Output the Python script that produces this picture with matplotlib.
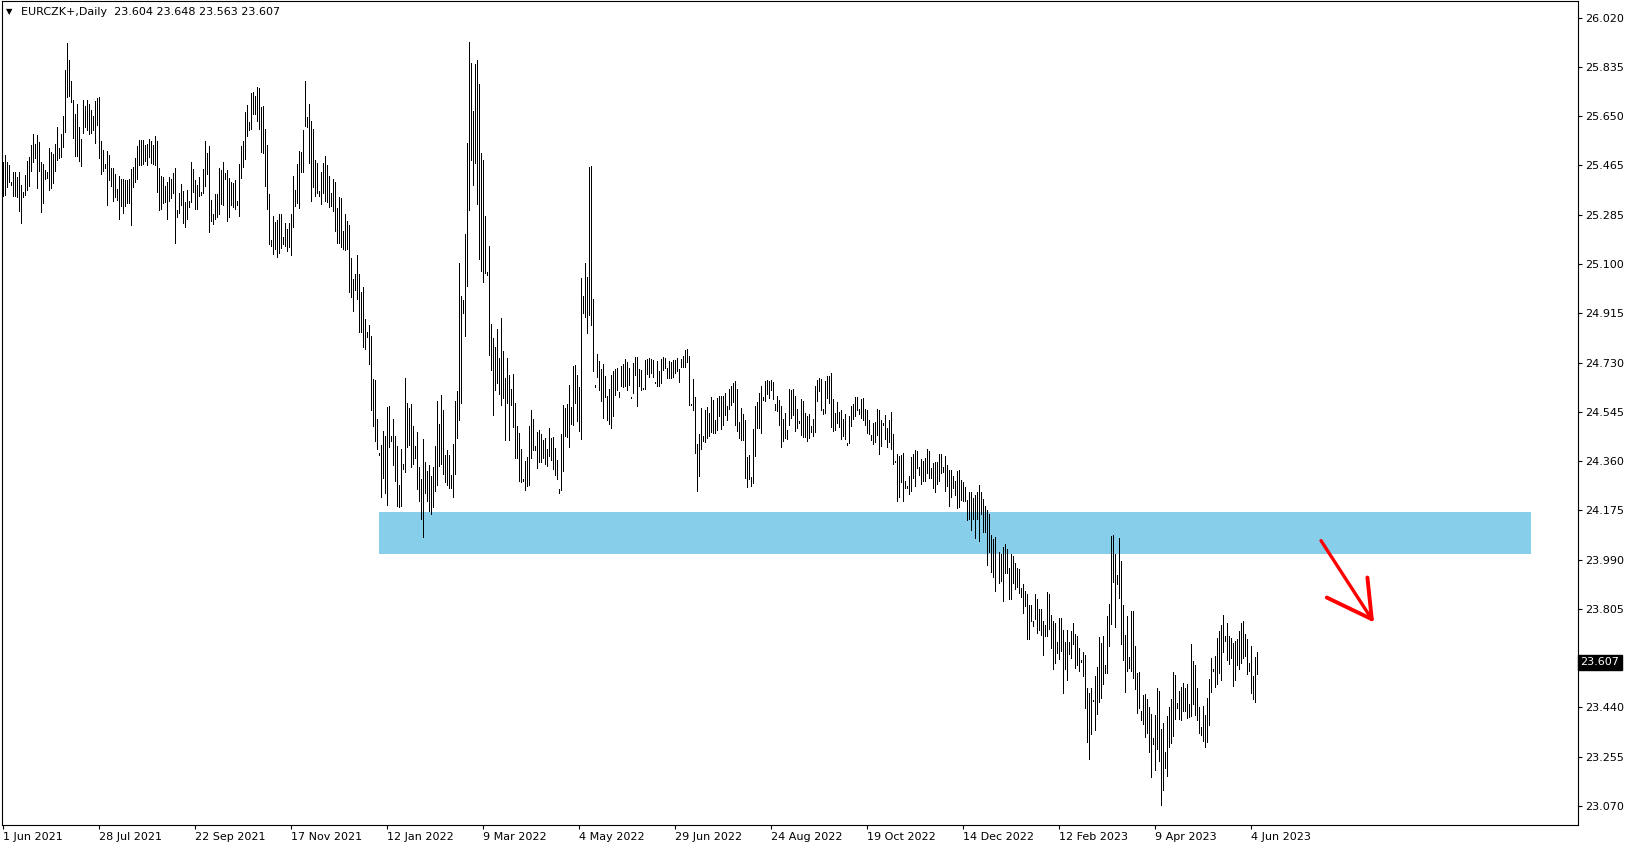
import numpy as np
import matplotlib
matplotlib.use("Agg")
import matplotlib.pyplot as plt
from matplotlib.patches import Rectangle
from matplotlib.transforms import blended_transform_factory

# daily bars EURCZK (high / low), one value per bar
highs = [
    25.481, 25.506, 25.481, 25.468, 25.406, 25.443, 25.443, 25.425, 25.443, 25.394,
    25.369, 25.431, 25.483, 25.500, 25.543, 25.584, 25.546, 25.581, 25.554, 25.478,
    25.472, 25.450, 25.442, 25.532, 25.518, 25.508, 25.548, 25.610, 25.531, 25.584,
    25.652, 25.823, 25.923, 25.861, 25.782, 25.711, 25.659, 25.696, 25.612, 25.566,
    25.711, 25.689, 25.711, 25.696, 25.676, 25.652, 25.709, 25.720, 25.724, 25.558,
    25.524, 25.472, 25.522, 25.505, 25.458, 25.457, 25.433, 25.379, 25.428, 25.416,
    25.416, 25.412, 25.412, 25.416, 25.453, 25.462, 25.493, 25.539, 25.562, 25.562,
    25.562, 25.543, 25.547, 25.567, 25.558, 25.543, 25.577, 25.559, 25.458, 25.428,
    25.425, 25.391, 25.405, 25.425, 25.417, 25.440, 25.458, 25.299, 25.365, 25.397,
    25.371, 25.331, 25.375, 25.335, 25.481, 25.455, 25.412, 25.395, 25.425, 25.369,
    25.455, 25.559, 25.515, 25.539, 25.338, 25.285, 25.360, 25.360, 25.457, 25.450,
    25.480, 25.437, 25.450, 25.421, 25.405, 25.400, 25.412, 25.335, 25.472, 25.541,
    25.558, 25.668, 25.693, 25.630, 25.736, 25.741, 25.727, 25.761, 25.756, 25.684,
    25.689, 25.604, 25.543, 25.360, 25.188, 25.279, 25.255, 25.263, 25.285, 25.285,
    25.198, 25.253, 25.230, 25.250, 25.285, 25.428, 25.375, 25.472, 25.522, 25.517,
    25.599, 25.782, 25.647, 25.696, 25.632, 25.602, 25.487, 25.477, 25.372, 25.441,
    25.475, 25.502, 25.468, 25.428, 25.365, 25.416, 25.405, 25.308, 25.350, 25.344,
    25.222, 25.285, 25.259, 25.244, 25.120, 25.042, 25.061, 25.132, 25.061, 24.995,
    25.012, 24.893, 24.842, 24.870, 24.830, 24.668, 24.665, 24.519, 24.391, 24.422,
    24.474, 24.455, 24.563, 24.568, 24.455, 24.519, 24.453, 24.416, 24.272, 24.407,
    24.351, 24.671, 24.577, 24.560, 24.574, 24.493, 24.418, 24.470, 24.337, 24.295,
    24.443, 24.358, 24.325, 24.347, 24.303, 24.337, 24.416, 24.586, 24.499, 24.609,
    24.553, 24.384, 24.401, 24.384, 24.308, 24.425, 24.586, 24.621, 25.103, 24.980,
    24.964, 25.210, 25.549, 25.928, 25.851, 25.671, 25.846, 25.861, 25.770, 25.514,
    25.487, 25.278, 25.068, 25.166, 24.874, 24.822, 24.786, 24.855, 24.747, 24.896,
    24.773, 24.672, 24.747, 24.683, 24.631, 24.687, 24.579, 24.493, 24.467, 24.407,
    24.293, 24.362, 24.377, 24.493, 24.553, 24.519, 24.418, 24.470, 24.478, 24.463,
    24.440, 24.448, 24.407, 24.485, 24.448, 24.452, 24.411, 24.366, 24.257, 24.463,
    24.571, 24.560, 24.575, 24.646, 24.564, 24.717, 24.721, 24.683, 24.639, 25.046,
    24.979, 25.102, 25.050, 25.461, 25.465, 24.967, 24.646, 24.762, 24.736, 24.706,
    24.725, 24.680, 24.605, 24.631, 24.683, 24.698, 24.706, 24.710, 24.620, 24.717,
    24.725, 24.743, 24.732, 24.710, 24.602, 24.728, 24.751, 24.751, 24.706, 24.702,
    24.635, 24.740, 24.743, 24.747, 24.743, 24.740, 24.657, 24.736, 24.699, 24.743,
    24.751, 24.747, 24.710, 24.736, 24.732, 24.740, 24.740, 24.747, 24.706, 24.743,
    24.755, 24.777, 24.781, 24.755, 24.575, 24.669, 24.601, 24.426, 24.463, 24.560,
    24.456, 24.553, 24.564, 24.542, 24.599, 24.588, 24.515, 24.595, 24.605, 24.603,
    24.605, 24.616, 24.568, 24.631, 24.643, 24.654, 24.662, 24.629, 24.505, 24.560,
    24.538, 24.513, 24.375, 24.385, 24.300, 24.482, 24.568, 24.583, 24.616, 24.643,
    24.599, 24.662, 24.665, 24.662, 24.665, 24.657, 24.575, 24.605, 24.590, 24.568,
    24.519, 24.542, 24.478, 24.629, 24.628, 24.631, 24.605, 24.557, 24.512, 24.594,
    24.586, 24.542, 24.530, 24.538, 24.493, 24.519, 24.643, 24.665, 24.672, 24.669,
    24.557, 24.661, 24.680, 24.680, 24.691, 24.594, 24.542, 24.583, 24.545, 24.553,
    24.519, 24.538, 24.429, 24.530, 24.568, 24.575, 24.601, 24.601, 24.557, 24.594,
    24.598, 24.557, 24.553, 24.515, 24.459, 24.504, 24.508, 24.557, 24.553, 24.515,
    24.504, 24.534, 24.486, 24.515, 24.545, 24.463, 24.362, 24.388, 24.378, 24.385,
    24.392, 24.287, 24.266, 24.306, 24.375, 24.386, 24.403, 24.397, 24.337, 24.370,
    24.360, 24.371, 24.407, 24.397, 24.334, 24.352, 24.358, 24.358, 24.388, 24.387,
    24.337, 24.381, 24.345, 24.329, 24.326, 24.304, 24.285, 24.325, 24.329, 24.291,
    24.282, 24.263, 24.216, 24.246, 24.246, 24.224, 24.235, 24.246, 24.272, 24.246,
    24.220, 24.194, 24.179, 24.164, 24.085, 24.070, 24.078, 23.958, 24.022, 24.014,
    24.041, 24.052, 24.033, 23.962, 24.014, 24.007, 23.981, 23.962, 23.955, 23.887,
    23.902, 23.876, 23.865, 23.821, 23.821, 23.761, 23.865, 23.846, 23.806, 23.806,
    23.764, 23.749, 23.872, 23.865, 23.786, 23.764, 23.754, 23.685, 23.775, 23.775,
    23.728, 23.682, 23.730, 23.683, 23.724, 23.756, 23.713, 23.708, 23.661, 23.618,
    23.648, 23.634, 23.511, 23.492, 23.511, 23.465, 23.556, 23.589, 23.702, 23.679,
    23.708, 23.597, 23.780, 23.827, 24.079, 24.083, 24.012, 23.933, 24.074, 23.988,
    23.821, 23.709, 23.780, 23.627, 23.798, 23.798, 23.670, 23.567, 23.570, 23.424,
    23.487, 23.491, 23.472, 23.440, 23.413, 23.323, 23.409, 23.513, 23.502, 23.360,
    23.379, 23.272, 23.405, 23.439, 23.472, 23.570, 23.562, 23.457, 23.499, 23.517,
    23.532, 23.510, 23.528, 23.450, 23.678, 23.611, 23.597, 23.513, 23.439, 23.364,
    23.446, 23.409, 23.476, 23.547, 23.623, 23.581, 23.631, 23.698, 23.723, 23.749,
    23.786, 23.708, 23.753, 23.708, 23.700, 23.679, 23.687, 23.694, 23.723, 23.753,
    23.764, 23.715, 23.694, 23.604, 23.670, 23.556, 23.626, 23.648,
]

lows = [
    25.354, 25.356, 25.387, 25.406, 25.394, 25.354, 25.354, 25.350, 25.298, 25.253,
    25.350, 25.356, 25.375, 25.390, 25.447, 25.481, 25.495, 25.384, 25.447, 25.294,
    25.325, 25.415, 25.419, 25.376, 25.381, 25.402, 25.446, 25.487, 25.495, 25.500,
    25.537, 25.593, 25.721, 25.726, 25.705, 25.571, 25.503, 25.502, 25.485, 25.465,
    25.589, 25.612, 25.599, 25.584, 25.587, 25.599, 25.552, 25.618, 25.496, 25.435,
    25.445, 25.456, 25.320, 25.412, 25.390, 25.335, 25.350, 25.338, 25.268, 25.316,
    25.290, 25.315, 25.328, 25.325, 25.245, 25.385, 25.406, 25.415, 25.468, 25.467,
    25.471, 25.485, 25.468, 25.500, 25.477, 25.472, 25.470, 25.369, 25.300, 25.304,
    25.328, 25.330, 25.265, 25.335, 25.344, 25.362, 25.176, 25.275, 25.288, 25.319,
    25.253, 25.235, 25.265, 25.310, 25.331, 25.369, 25.303, 25.305, 25.352, 25.356,
    25.365, 25.391, 25.435, 25.219, 25.257, 25.247, 25.265, 25.275, 25.284, 25.323,
    25.320, 25.416, 25.257, 25.272, 25.318, 25.310, 25.305, 25.320, 25.279, 25.421,
    25.462, 25.490, 25.577, 25.599, 25.602, 25.658, 25.658, 25.634, 25.602, 25.518,
    25.512, 25.390, 25.303, 25.172, 25.166, 25.134, 25.154, 25.123, 25.141, 25.159,
    25.172, 25.166, 25.148, 25.161, 25.131, 25.238, 25.316, 25.325, 25.309, 25.443,
    25.443, 25.614, 25.610, 25.475, 25.335, 25.387, 25.354, 25.362, 25.354, 25.324,
    25.365, 25.333, 25.331, 25.313, 25.316, 25.298, 25.223, 25.176, 25.178, 25.163,
    25.153, 25.151, 25.153, 24.995, 24.976, 24.924, 25.001, 24.966, 24.842, 24.845,
    24.789, 24.779, 24.824, 24.723, 24.550, 24.490, 24.434, 24.406, 24.383, 24.225,
    24.297, 24.241, 24.195, 24.413, 24.435, 24.347, 24.286, 24.191, 24.189, 24.191,
    24.331, 24.318, 24.412, 24.422, 24.338, 24.349, 24.374, 24.256, 24.210, 24.144,
    24.075, 24.241, 24.210, 24.173, 24.163, 24.188, 24.247, 24.270, 24.341, 24.349,
    24.312, 24.281, 24.272, 24.260, 24.260, 24.226, 24.312, 24.447, 24.513, 24.577,
    24.916, 24.827, 25.014, 25.300, 25.487, 25.394, 25.475, 25.321, 25.118, 25.070,
    25.032, 25.063, 25.055, 24.756, 24.700, 24.534, 24.627, 24.652, 24.610, 24.569,
    24.596, 24.440, 24.578, 24.438, 24.569, 24.487, 24.374, 24.371, 24.285, 24.281,
    24.286, 24.251, 24.266, 24.270, 24.374, 24.403, 24.401, 24.333, 24.358, 24.356,
    24.371, 24.349, 24.344, 24.378, 24.366, 24.330, 24.307, 24.292, 24.240, 24.251,
    24.322, 24.453, 24.449, 24.412, 24.501, 24.494, 24.579, 24.509, 24.472, 24.442,
    24.916, 24.898, 24.838, 24.908, 24.868, 24.696, 24.636, 24.677, 24.625, 24.584,
    24.520, 24.602, 24.513, 24.498, 24.483, 24.528, 24.606, 24.625, 24.599, 24.640,
    24.636, 24.640, 24.625, 24.644, 24.595, 24.617, 24.681, 24.565, 24.640, 24.625,
    24.629, 24.632, 24.685, 24.677, 24.690, 24.674, 24.651, 24.640, 24.640, 24.651,
    24.702, 24.710, 24.670, 24.671, 24.670, 24.677, 24.690, 24.696, 24.655, 24.711,
    24.711, 24.711, 24.730, 24.569, 24.569, 24.553, 24.390, 24.248, 24.304, 24.405,
    24.434, 24.431, 24.446, 24.453, 24.468, 24.464, 24.464, 24.476, 24.528, 24.479,
    24.497, 24.532, 24.513, 24.555, 24.572, 24.580, 24.494, 24.472, 24.446, 24.438,
    24.438, 24.296, 24.263, 24.294, 24.266, 24.277, 24.378, 24.484, 24.484, 24.464,
    24.588, 24.584, 24.610, 24.595, 24.625, 24.593, 24.550, 24.547, 24.494, 24.412,
    24.434, 24.446, 24.442, 24.494, 24.523, 24.532, 24.472, 24.483, 24.502, 24.457,
    24.449, 24.449, 24.434, 24.446, 24.468, 24.453, 24.468, 24.584, 24.621, 24.550,
    24.535, 24.539, 24.595, 24.577, 24.487, 24.472, 24.477, 24.502, 24.487, 24.442,
    24.453, 24.442, 24.419, 24.427, 24.491, 24.517, 24.528, 24.550, 24.535, 24.520,
    24.513, 24.494, 24.464, 24.461, 24.438, 24.423, 24.431, 24.457, 24.386, 24.416,
    24.494, 24.442, 24.412, 24.431, 24.405, 24.349, 24.358, 24.210, 24.225, 24.281,
    24.210, 24.259, 24.259, 24.238, 24.248, 24.296, 24.266, 24.335, 24.310, 24.275,
    24.285, 24.285, 24.316, 24.296, 24.296, 24.259, 24.244, 24.274, 24.285, 24.315,
    24.320, 24.248, 24.266, 24.191, 24.225, 24.259, 24.234, 24.184, 24.189, 24.214,
    24.210, 24.211, 24.142, 24.145, 24.102, 24.143, 24.072, 24.143, 24.060, 24.161,
    24.094, 24.094, 23.971, 24.019, 23.945, 23.926, 23.874, 23.956, 23.903, 23.911,
    23.836, 23.941, 23.941, 23.844, 23.846, 23.903, 23.881, 23.889, 23.866, 23.851,
    23.791, 23.817, 23.694, 23.694, 23.761, 23.743, 23.769, 23.717, 23.728, 23.709,
    23.634, 23.705, 23.705, 23.733, 23.660, 23.583, 23.604, 23.642, 23.621, 23.649,
    23.494, 23.583, 23.541, 23.638, 23.623, 23.675, 23.586, 23.597, 23.575, 23.608,
    23.556, 23.436, 23.309, 23.246, 23.339, 23.462, 23.354, 23.414, 23.459, 23.474,
    23.526, 23.567, 23.567, 23.668, 23.750, 23.907, 23.739, 23.900, 23.847, 23.675,
    23.616, 23.496, 23.575, 23.586, 23.575, 23.548, 23.507, 23.418, 23.436, 23.391,
    23.376, 23.328, 23.343, 23.272, 23.178, 23.302, 23.204, 23.283, 23.238, 23.074,
    23.130, 23.212, 23.182, 23.290, 23.305, 23.332, 23.395, 23.436, 23.395, 23.391,
    23.425, 23.425, 23.399, 23.403, 23.406, 23.451, 23.410, 23.391, 23.343, 23.335,
    23.313, 23.290, 23.309, 23.373, 23.496, 23.575, 23.516, 23.526, 23.567, 23.541,
    23.646, 23.687, 23.616, 23.601, 23.623, 23.518, 23.541, 23.597, 23.583, 23.604,
    23.623, 23.631, 23.563, 23.575, 23.492, 23.470, 23.459, 23.563,
]

# last bar OHLC shown in the header
last_ohlc = [23.604, 23.648, 23.563, 23.607]

# date labels, one every 48 bars
date_labels = ["1 Jun 2021", "28 Jul 2021", "22 Sep 2021", "17 Nov 2021",
               "12 Jan 2022", "9 Mar 2022", "4 May 2022", "29 Jun 2022",
               "24 Aug 2022", "19 Oct 2022", "14 Dec 2022", "12 Feb 2023",
               "9 Apr 2023", "4 Jun 2023"]
bars_per_label = 48

# price scale labels (the 23.625 one sits under the price box, left out)
price_ticks = [26.020, 25.836, 25.651, 25.467, 25.282, 25.098, 24.914, 24.729,
               24.545, 24.361, 24.176, 23.992, 23.807, 23.439, 23.254, 23.070]
price_labels = ["26.020", "25.835", "25.650", "25.465", "25.285", "25.100",
                "24.915", "24.730", "24.545", "24.360", "24.175", "23.990",
                "23.805", "23.440", "23.255", "23.070"]

# blue zone (bar index range and price range)
zone_bars = [188, 764]
zone_prices = [24.014, 24.169]

highs = np.array(highs)
lows = np.array(lows)
idx = np.arange(len(highs))

W, H = 1635, 850
fig = plt.figure(figsize=(W / 100, H / 100), dpi=100)
ax = fig.add_axes([2 / W, 1 - 825 / H, 1576 / W, 824 / H])

# zone rectangle behind the bars
ax.add_patch(Rectangle((zone_bars[0], zone_prices[0]), zone_bars[1] - zone_bars[0],
                       zone_prices[1] - zone_prices[0], facecolor="#87CEEB",
                       edgecolor="none", zorder=1))

# bars, 1 px wide
ax.vlines(idx, lows, highs, color="black", linewidth=0.5, antialiased=False, zorder=3)

# hand drawn red arrow
ax.plot([659, 684.4], [24.063, 23.769], color="red", lw=2.4, solid_capstyle="round", zorder=4)
ax.plot([661.9, 684.4], [23.850, 23.769], color="red", lw=2.8, solid_capstyle="round", zorder=4)
ax.plot([682.2, 684.4], [23.925, 23.769], color="red", lw=2.8, solid_capstyle="round", zorder=4)

ax.set_xlim(-0.5, 787.5)
ax.set_ylim(22.999, 26.082)

# axes like MT4
for s in ax.spines.values():
    s.set_linewidth(0.8)
    s.set_color("black")
ax.yaxis.tick_right()
ax.set_yticks(price_ticks)
ax.set_yticklabels(price_labels)
ax.tick_params(axis="y", length=3, width=0.8, pad=2, labelsize=8, direction="out")
ax.set_xticks(np.arange(len(date_labels)) * bars_per_label)
ax.set_xticklabels(date_labels)
ax.tick_params(axis="x", length=3, width=0.8, pad=2, labelsize=8, direction="out")
for lab in ax.get_xticklabels():
    lab.set_ha("left")

# current price box
tr = blended_transform_factory(ax.transAxes, ax.transData)
ax.text(1.0015, last_ohlc[3], "%.3f" % last_ohlc[3], transform=tr, ha="left", va="center",
        color="white", fontsize=8, clip_on=False, zorder=10,
        bbox=dict(boxstyle="square,pad=0.22", facecolor="black", edgecolor="black"))

# header
fig.text(6 / W, 1 - 12 / H, "\u25bc", fontsize=6, va="center", ha="left")
fig.text(21 / W, 1 - 12 / H, "EURCZK+,Daily  " + " ".join("%.3f" % v for v in last_ohlc),
         fontsize=8, va="center", ha="left")

fig.savefig("out.png", dpi=100)
